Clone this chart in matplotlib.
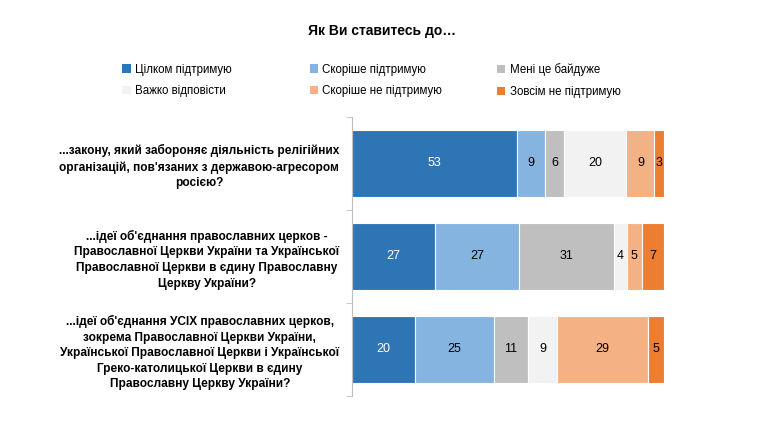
import numpy as np
import matplotlib.pyplot as plt
from matplotlib.patches import Patch

plt.rcParams['font.family'] = ['Liberation Sans', 'DejaVu Sans']

# categories (top to bottom)
questions = [
    "...закону, який забороняє діяльність релігійних\nорганізацій, пов'язаних з державою-агресором\nросією?",
    "...ідеї об'єднання православних церков -\nПравославної Церкви України та Української\nПравославної Церкви в єдину Православну\nЦеркву України?",
    "...ідеї об'єднання УСІХ православних церков,\nзокрема Православної Церкви України,\nУкраїнської Православної Церкви і Української\nГреко-католицької Церкви в єдину\nПравославну Церкву України?",
]
answers = ["Цілком підтримую", "Скоріше підтримую", "Мені це байдуже",
           "Важко відповісти", "Скоріше не підтримую", "Зовсім не підтримую"]

full_support = [53, 27, 20]
rather_support = [9, 27, 25]
indifferent = [6, 31, 11]
hard_to_say = [20, 4, 9]
rather_not = [9, 5, 29]
not_at_all = [3, 7, 5]

series = [full_support, rather_support, indifferent, hard_to_say, rather_not, not_at_all]
colors = ['#2E75B6', '#85B4E0', '#BFBFBF', '#F2F2F2', '#F4B183', '#ED7D31']
text_colors = ['white', 'black', 'black', 'black', 'black', 'black']

fig = plt.figure(figsize=(7.8, 4.38), dpi=100)
ax = fig.add_axes([0.451, 0.096, 0.400, 0.637])

# rounded values don't always sum to 100 - scale each row to full width
totals = np.sum(np.array(series, dtype=float), axis=0)

y = np.arange(len(questions))
left = np.zeros(len(questions))
for vals, col, tc in zip(series, colors, text_colors):
    vals = np.array(vals, dtype=float)
    widths = vals / totals * 100
    bars = ax.barh(y, widths, left=left, height=0.72, color=col,
                   edgecolor='white', linewidth=0.8)
    for b, v in zip(bars, vals):
        ax.text(b.get_x() + b.get_width() / 2, b.get_y() + b.get_height() / 2,
                f"{int(v)}", ha='center', va='center', color=tc, fontsize=9)
    left += widths

ax.set_xlim(0, 100)
ax.set_ylim(2.5, -0.5)
ax.set_xticks([])
ax.set_yticks(y)
ax.set_yticklabels(questions, fontsize=8.6, fontweight='bold',
                   multialignment='center', linespacing=1.4)
ax.tick_params(axis='y', which='major', length=0, pad=9)
ax.set_yticks([-0.5, 0.5, 1.5, 2.5], minor=True)
ax.tick_params(axis='y', which='minor', length=4, color='#BFBFBF')
for s in ['top', 'right', 'bottom']:
    ax.spines[s].set_visible(False)
ax.spines['left'].set_color('#BFBFBF')

fig.text(0.49, 0.93, "Як Ви ставитесь до…", ha='center', va='center',
         fontsize=10, fontweight='bold')

# legend: three columns, filled row by row
col_x = [0.157, 0.397, 0.637]
for i, x in enumerate(col_x):
    idx = [i, i + 3]
    handles = [Patch(facecolor=colors[k], edgecolor='none') for k in idx]
    leg = fig.legend(handles, [answers[k] for k in idx], loc='upper left',
                     bbox_to_anchor=(x, 0.855), frameon=False, fontsize=8.3,
                     handlelength=0.7, handleheight=0.7, handletextpad=0.4,
                     labelspacing=0.85, borderpad=0, borderaxespad=0)

fig.savefig('out.png', dpi=100)
